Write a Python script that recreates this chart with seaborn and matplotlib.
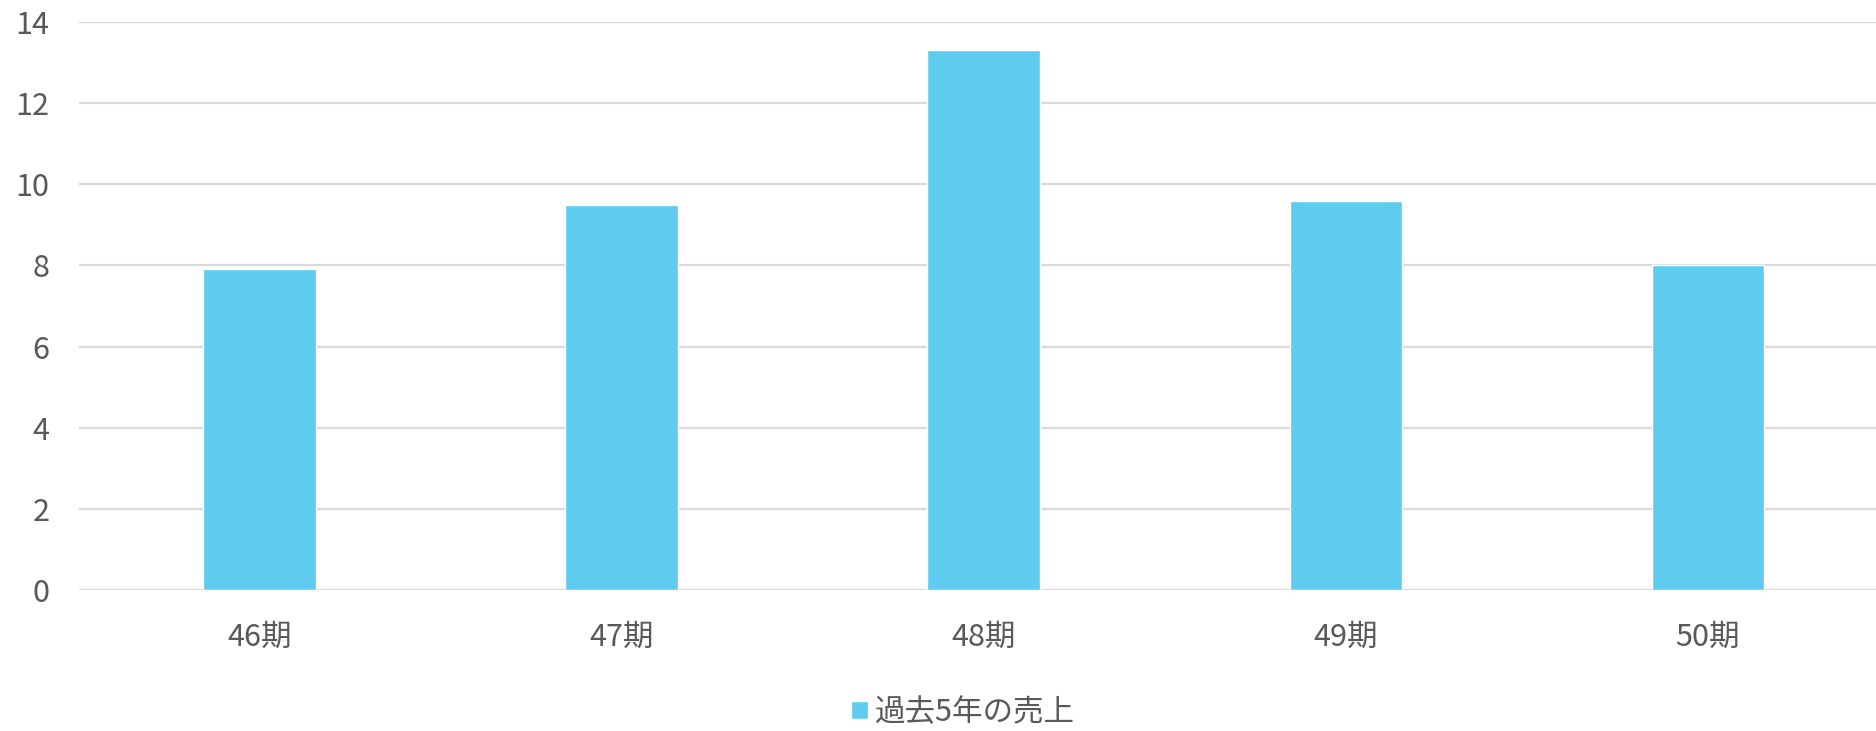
import pandas as pd
import matplotlib
matplotlib.use('Agg')
import matplotlib.pyplot as plt
import seaborn as sns

# chart data
periods = ['46期', '47期', '48期', '49期', '50期']
sales = [7.9, 9.5, 13.3, 9.6, 8.0]
series_name = '過去5年の売上'

df = pd.DataFrame({'period': periods, 'sales': sales})

sns.set_theme(style='white')
plt.rcParams['font.family'] = ['Noto Sans CJK JP', 'DejaVu Sans']

text_color = '#595959'
bar_color = '#5FCBEF'

fig = plt.figure(figsize=(18.76, 7.31), dpi=100)
ax = fig.add_axes([78.5 / 1876, 141 / 731, 1 - 78.5 / 1876, 568 / 731])

sns.barplot(data=df, x='period', y='sales', color=bar_color, width=0.31,
            saturation=1, label=series_name, ax=ax)

ax.set_ylim(0, 14)
ax.set_yticks(range(0, 15, 2))
ax.set_xlim(-0.5, 4.465)
ax.set_xlabel('')
ax.set_ylabel('')
ax.yaxis.grid(True, color='#D9D9D9', linewidth=1.6)
ax.set_axisbelow(True)
for s in ax.spines.values():
    s.set_visible(False)
ax.tick_params(axis='y', length=0, pad=21, labelsize=22, labelcolor=text_color)
ax.tick_params(axis='x', length=0, pad=23, labelsize=22, labelcolor=text_color)

leg = ax.legend(loc='center', bbox_to_anchor=(0.492, -0.215), frameon=False,
                fontsize=22, handlelength=0.56, handleheight=0.56,
                handletextpad=0.23, labelcolor=text_color)

fig.savefig('out.png', dpi=100)
